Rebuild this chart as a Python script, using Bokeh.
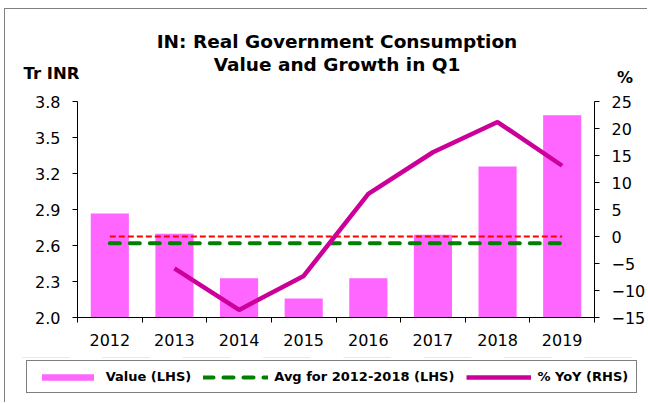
import numpy as np
from bokeh.plotting import figure
from bokeh.models import Range1d, LinearAxis, FixedTicker, Label, Legend, LegendItem, NumeralTickFormatter
from bokeh.embed import file_html
from bokeh.resources import INLINE

# ---- data ----
years = ["2012", "2013", "2014", "2015", "2016", "2017", "2018", "2019"]
value_lhs = [2.867, 2.698, 2.328, 2.158, 2.328, 2.689, 3.258, 3.686]   # Tr INR
yoy_rhs = [np.nan, -5.9, -13.6, -7.3, 7.9, 15.6, 21.2, 13.1]           # %
avg_period = 7  # 2012-2018
lhs_ticks = [2.0, 2.3, 2.6, 2.9, 3.2, 3.5, 3.8]
rhs_ticks = [-15, -10, -5, 0, 5, 10, 15, 20, 25]
zero_rhs = 0.0

title_1 = "IN: Real Government Consumption"
title_2 = "Value and Growth in Q1"
lhs_unit = "Tr INR"
rhs_unit = "%"
legend_labels = ["Value (LHS)", "Avg for 2012-2018 (LHS)", "% YoY (RHS)"]

FONT = "DejaVu Sans"
BAR = "#FF66FF"
LINE = "#CC0099"
GREEN = "#008000"
RED = "#FF0000"
FRAME = "1px solid #808080"

n = len(years)
xs = np.arange(n) + 0.5
avg_value = float(np.mean(value_lhs[:avg_period]))

W = 643
BAR_W = 0.59
AVG_STYLE = dict(line_color=GREEN, line_width=4, line_dash="10 10", line_cap="round")
YOY_STYLE = dict(line_color=LINE, line_width=4.5)


def bare(fig):
    fig.outline_line_color = None
    fig.xgrid.visible = False
    fig.ygrid.visible = False


# ---------- header (title and unit labels), page coordinates ----------
H_HEAD = 80
head = figure(width=W, height=H_HEAD, output_backend="svg", toolbar_location=None,
              x_range=Range1d(5, 5 + W), y_range=Range1d(9 + H_HEAD, 9),
              x_axis_type=None, y_axis_type=None, min_border=0)
head.margin = (8, 0, 0, 4)
head.styles = {"border-top": FRAME, "border-left": FRAME}
bare(head)
for txt, x, y, size, align in ((title_1, 336.5, 41, "18.5px", "center"),
                               (title_2, 336.5, 63.5, "18.5px", "center"),
                               (lhs_unit, 23, 72.5, "16.5px", "left"),
                               (rhs_unit, 624.5, 77, "16px", "center")):
    head.add_layout(Label(x=x, y=y, text=txt, text_font=FONT, text_font_size=size,
                          text_font_style="bold", text_align=align,
                          text_baseline="alphabetic", text_color="black"))

# ---------- main chart ----------
H_MAIN = 269
p = figure(width=W, height=H_MAIN, output_backend="svg", toolbar_location=None,
           x_range=Range1d(0, n), y_range=Range1d(lhs_ticks[0], lhs_ticks[-1]),
           min_border_left=72, min_border_right=53, min_border_top=13, min_border_bottom=40)
p.margin = (0, 0, 0, 4)
p.styles = {"border-left": FRAME}
p.extra_y_ranges = {"pct": Range1d(rhs_ticks[0], rhs_ticks[-1])}
bare(p)

p.vbar(x=xs, top=value_lhs, bottom=lhs_ticks[0], width=BAR_W, fill_color=BAR, line_color=None)
p.line(x=[xs[0], xs[-1]], y=[zero_rhs, zero_rhs], y_range_name="pct",
       line_color=RED, line_width=2, line_dash="6 3")
p.line(x=xs, y=[avg_value] * n, **AVG_STYLE)
p.line(x=xs, y=yoy_rhs, y_range_name="pct", **YOY_STYLE)

# x axis: labels at category centres, ticks at category edges
xa = p.xaxis[0]
xa.ticker = FixedTicker(ticks=list(xs), minor_ticks=list(range(n + 1)))
xa.major_label_overrides = {float(x): y for x, y in zip(xs, years)}
xa.major_tick_out = 0
xa.major_tick_in = 0
xa.minor_tick_out = 5
xa.minor_tick_in = 0
xa.major_label_standoff = 11

ya = p.yaxis[0]
ya.ticker = FixedTicker(ticks=lhs_ticks)
ya.formatter = NumeralTickFormatter(format="0.0")
ya.major_tick_out = 5
ya.major_tick_in = 0
ya.minor_tick_out = 0
ya.minor_tick_in = 0
ya.major_label_standoff = 12

ra = LinearAxis(y_range_name="pct", ticker=FixedTicker(ticks=rhs_ticks))
ra.major_tick_out = 5
ra.major_tick_in = 0
ra.minor_tick_out = 0
ra.minor_tick_in = 0
ra.major_label_standoff = 12
p.add_layout(ra, "right")

for ax in (xa, ya, ra):
    ax.axis_line_color = "black"
    ax.axis_line_width = 1
    ax.major_tick_line_color = "black"
    ax.minor_tick_line_color = "black"
    ax.major_label_text_font = FONT
    ax.major_label_text_font_size = "16px"
    ax.major_label_text_color = "black"

# ---------- footer with the legend (same series, drawn outside its visible range) ----------
H_FOOT = 403 - (9 + H_HEAD + H_MAIN)
foot = figure(width=W, height=H_FOOT, output_backend="svg", toolbar_location=None,
              x_range=Range1d(0, n), y_range=Range1d(-1000, -999),
              x_axis_type=None, y_axis_type=None, min_border=0)
foot.margin = (0, 0, 0, 4)
foot.styles = {"border-left": FRAME}
bare(foot)
lg_bar = foot.vbar(x=xs, top=value_lhs, bottom=lhs_ticks[0], width=BAR_W,
                   fill_color=BAR, line_color=None)
lg_avg = foot.line(x=xs, y=[avg_value] * n, **AVG_STYLE)
lg_yoy = foot.line(x=xs, y=yoy_rhs, **YOY_STYLE)

legend = Legend(items=[LegendItem(label=legend_labels[0], renderers=[lg_bar]),
                       LegendItem(label=legend_labels[1], renderers=[lg_avg]),
                       LegendItem(label=legend_labels[2], renderers=[lg_yoy])],
                location=(20.7, 9), orientation="horizontal",
                glyph_width=65, glyph_height=8, label_standoff=6, spacing=12,
                padding=8, margin=0,
                label_text_font=FONT, label_text_font_size="13px",
                label_text_font_style="bold", label_text_color="black",
                border_line_color="#000000", border_line_width=1,
                background_fill_color="white", background_fill_alpha=1)
foot.add_layout(legend, "center")

open("out.html", "w").write(file_html([head, p, foot], INLINE))
